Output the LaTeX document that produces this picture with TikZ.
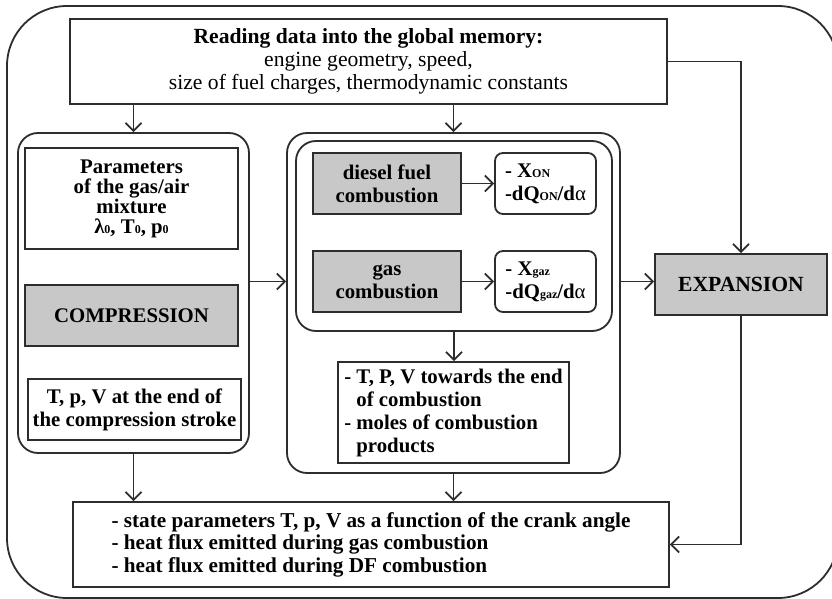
\documentclass[tikz,border=0pt]{standalone}
\usepackage{fontspec}
\setmainfont{Liberation Serif}
\usetikzlibrary{arrows.meta}
\definecolor{boxgray}{RGB}{200,200,200}
\definecolor{edge}{RGB}{45,45,45}
\tikzset{
  box/.style={draw=edge,line width=0.9pt,inner sep=0pt,minimum height=30.5pt,align=center,
    font=\bfseries\fontsize{10.4}{11.5}\selectfont},
  greybox/.style={box,fill=boxgray},
  roundbox/.style={box,rounded corners=4pt,align=left},
  panel/.style={draw=edge,line width=0.9pt,rounded corners=10pt,inner sep=0pt},
  arr/.style={draw=edge,line width=0.9pt,-{Straight Barb[length=4pt,width=8pt,line width=0.9pt]}}
}
\def\arr{\draw[arr]}
\def\sub#1{{\fontsize{6}{6}\selectfont #1}}

\begin{document}
\begin{tikzpicture}[x=0.5pt,y=-0.5pt]
    \useasboundingbox (0,0) rectangle (832,599);
    \clip (0,0) rectangle (832,599);
    \draw[edge,line width=0.9pt,rounded corners=30pt] (7,6) rectangle (838,598);
    \node[box,minimum width=298.5pt,minimum height=42.5pt,font=\bfseries\fontsize{10.8}{11.5}\selectfont] (read) at (368.5,61.5)
        {Reading data into the global memory:\\ \mdseries engine geometry, speed,\\ \mdseries size of fuel charges, thermodynamic constants};
    \node[panel,minimum width=115.5pt,minimum height=160pt] (left) at (133.5,293) {};
    \node[box,minimum width=106.5pt,minimum height=50.5pt,font=\bfseries\fontsize{10.4}{10}\selectfont] (params) at (131.5,198.5)
        {Parameters\\ of the gas/air\\ mixture\\ λ\sub{0}, T\sub{0}, p\sub{0}};
    \node[greybox,minimum width=106.5pt] (compr) at (131.5,315.5) {COMPRESSION};
    \node[box,minimum width=106.5pt] (tpvend) at (134.5,409.5) {T, p, V at the end of\\ the compression stroke};
    \node[panel,minimum width=166.5pt,minimum height=170pt] (mid) at (453.5,303) {};
    \node[panel,minimum width=158pt,minimum height=95pt] (inner) at (454,236) {};
    \node[greybox,minimum width=74pt] (diesel) at (387,183.5) {diesel fuel\\ combustion};
    \node[greybox,minimum width=74pt] (gas) at (387,281.5) {gas\\ combustion};
    \node[roundbox,minimum width=50.5pt] (xon) at (545.5,183.5) {- X\sub{ON}\\ -dQ\sub{ON}/d{\mdseries α}};
    \node[roundbox,minimum width=50.5pt] (xgaz) at (545.5,281.5) {- X\sub{gaz}\\ -dQ\sub{gaz}/d{\mdseries α}};
    \node[box,minimum width=115.5pt,minimum height=50.5pt,align=left] (towards) at (453.5,412.5)
        {- T, P, V towards the end\\ \hphantom{- }of combustion\\ - moles of combustion\\ \hphantom{- }products};
    \node[greybox,minimum width=86pt,font=\bfseries\fontsize{10.8}{11.5}\selectfont] (exp) at (741,284.5) {EXPANSION};
    \node[box,minimum width=298pt,minimum height=42.5pt,align=left,font=\bfseries\fontsize{10.6}{11.2}\selectfont] (bottom) at (371,544.5)
        {- state parameters T, p, V as a function of the crank angle\\ - heat flux emitted during gas combustion\\ - heat flux emitted during DF combustion};
    \arr (read.south -| left.north) -- (left.north);
    \arr (read.south -| mid.north) -- (mid.north);
    \arr (read.east) -| (exp.north);
    \arr (gas -| left.east) -- (gas -| mid.west);
    \arr (diesel) -- (xon);
    \arr (gas) -- (xgaz);
    \arr (gas -| mid.east) -- (gas -| exp.west);
    \arr (inner.south) -- (inner.south |- towards.north);
    \arr (left.south) -- (left.south |- bottom.north);
    \arr (mid.south) -- (mid.south |- bottom.north);
    \arr (exp.south) |- (bottom.east);
\end{tikzpicture}
\end{document}
